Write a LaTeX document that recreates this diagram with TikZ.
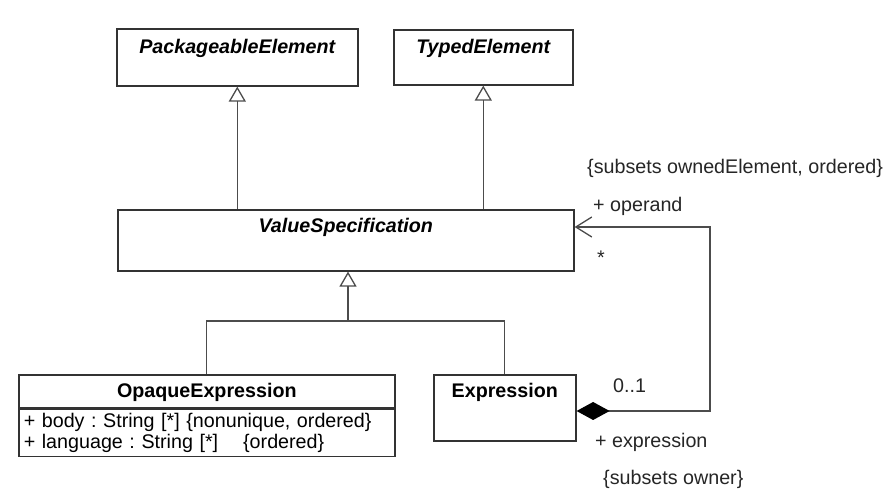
\documentclass[tikz,border=0pt]{standalone}
\usepackage{fontspec}
\setmainfont{Liberation Sans}
\usetikzlibrary{arrows.meta,positioning}
\frenchspacing

\begin{document}
\begin{tikzpicture}[x=1pt, y=-1pt,
    every node/.style={font=\fontsize{19.7}{21}\selectfont},
    classbox/.style={draw=black!80, line width=1.6pt, fill=white, inner xsep=0pt, inner ysep=0pt, anchor=north west},
    abstractclass/.style={classbox, font=\fontsize{19.7}{21}\selectfont\bfseries\itshape},
    concreteclass/.style={classbox, font=\fontsize{19.7}{21}\selectfont\bfseries},
    attrbox/.style={draw=black!80, line width=1.6pt, fill=white, inner xsep=5pt, inner ysep=0pt, align=left, anchor=north},
    rolelabel/.style={anchor=base west, inner sep=0pt, text=black!85},
    connector/.style={draw=black!70, line width=1.3pt},
    generalization/.style={connector, -{Triangle[open, length=15pt, width=17pt, fill=white]}},
    composition/.style={connector, {Diamond[length=33pt, width=18pt, color=black]}-{Straight Barb[length=16pt, width=20pt]}}
  ]
  \fill[white] (0,0) rectangle (887,494);
  \useasboundingbox (0,0) rectangle (887,494);

  % classes
  \node[abstractclass, minimum width=241pt, text height=25pt, text depth=32pt] (pe) at (116,28) {PackageableElement};
  \node[abstractclass, minimum width=179pt, text height=24pt, text depth=31pt] (te) at (393,29) {TypedElement};
  \node[abstractclass, minimum width=456pt, text height=23pt, text depth=38pt] (vs) at (117,209) {ValueSpecification};
  \node[concreteclass, minimum width=376pt, text height=23pt, text depth=10pt] (oe) at (18,374) {OpaqueExpression};
  \node[attrbox, text width=366pt, minimum height=47pt] (oeattr) at (oe.south)
    {+ body : String [*] \{nonunique, ordered\}\\+ language : String [*]\hspace{25pt}\{ordered\}};
  \node[concreteclass, minimum width=142pt, text height=23pt, text depth=43pt] (ex) at (433,374) {Expression};

  % generalizations
  \draw[generalization] (vs.north -| pe.south) -- (pe.south);
  \draw[generalization] (vs.north -| te.south) -- (te.south);
  \coordinate (genjoin) at (348,321);
  \draw[connector] (oe.north) |- (genjoin);
  \draw[connector] (ex.north) |- (genjoin);
  \draw[generalization] (genjoin) -- (genjoin |- vs.south);

  % operand / expression composition
  \coordinate (compbend) at (710,411);
  \coordinate (navbend) at (710,227);
  \draw[composition] (ex.east |- compbend) -- (compbend) -- (navbend) -- (vs.east |- navbend);

  \node[rolelabel] (opconstraint) at (587,174) {\{subsets ownedElement, ordered\}};
  \node[rolelabel] (oprole) at (593,212) {+ operand};
  \node[rolelabel] (opmult) at (597,265) {*};
  \node[rolelabel] (exmult) at (613,393) {0..1};
  \node[rolelabel] (exrole) at (595,447) {+ expression};
  \node[rolelabel] (exconstraint) at (603,484) {\{subsets owner\}};
\end{tikzpicture}
\end{document}
